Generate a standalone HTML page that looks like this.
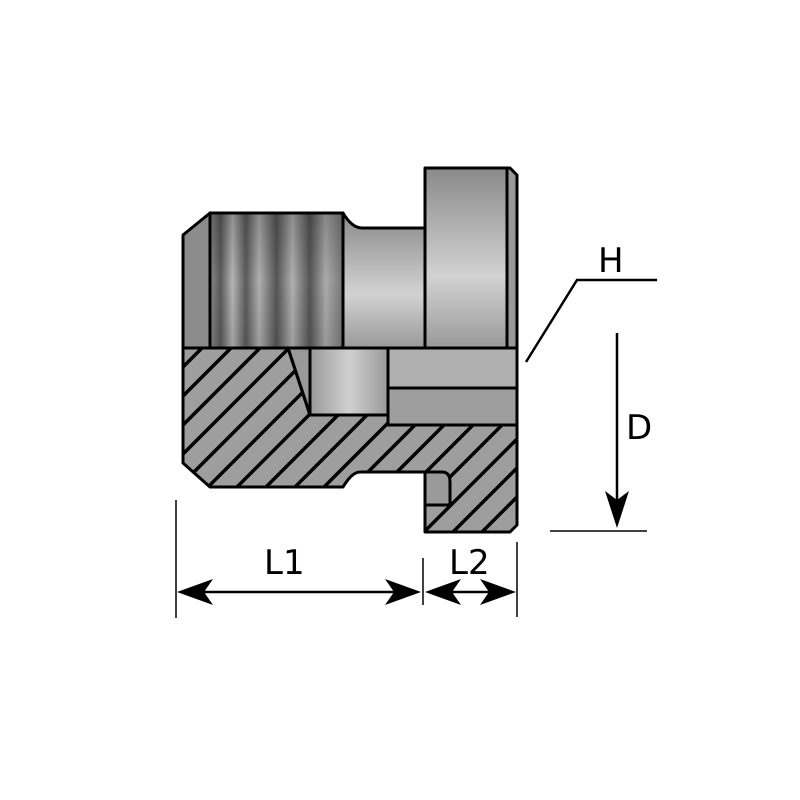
<!DOCTYPE html>
<html><head><meta charset="utf-8"><style>html,body{margin:0;padding:0;background:#fff}svg{display:block}</style></head><body>
<svg width="800" height="800" viewBox="0 0 800 800" xmlns="http://www.w3.org/2000/svg">
<defs>
<clipPath id="cp"><path d="M183,348 L517,348 L517,525 L510,532 L425,532 L425,472 L360,472 Q352,472 343,487 L210,487 L183,463 Z"/></clipPath>
<linearGradient id="thr" x1="0" x2="1" y1="0" y2="0">
<stop offset="0" stop-color="#8a8a8a"/><stop offset="0.08" stop-color="#5a5a5a"/><stop offset="0.17" stop-color="#b5b5b5"/>
<stop offset="0.27" stop-color="#5a5a5a"/><stop offset="0.37" stop-color="#b0b0b0"/><stop offset="0.5" stop-color="#555"/>
<stop offset="0.62" stop-color="#b0b0b0"/><stop offset="0.75" stop-color="#555"/><stop offset="0.87" stop-color="#aaa"/><stop offset="1" stop-color="#777"/>
</linearGradient>
<linearGradient id="v" x1="0" x2="0" y1="0" y2="1">
<stop offset="0" stop-color="#8a8a8a"/><stop offset="0.6" stop-color="#d2d2d2"/><stop offset="1" stop-color="#9a9a9a"/>
</linearGradient>
<linearGradient id="bore" x1="0" x2="1" y1="0" y2="0">
<stop offset="0" stop-color="#999"/><stop offset="0.5" stop-color="#d0d0d0"/><stop offset="1" stop-color="#999"/>
</linearGradient>
<linearGradient id="thrv" x1="0" x2="0" y1="0" y2="1">
<stop offset="0" stop-color="#000" stop-opacity="0.2"/><stop offset="0.5" stop-color="#000" stop-opacity="0"/><stop offset="1" stop-color="#000" stop-opacity="0.1"/>
</linearGradient>
</defs>
<g stroke="#000" stroke-width="3" stroke-linejoin="round">
<path d="M183,235 L210,213 L210,348 L183,348 Z" fill="#8c8c8c"/>
<rect x="210" y="213" width="133" height="135" fill="url(#thr)"/>
<rect x="210" y="213" width="133" height="135" fill="url(#thrv)" stroke="none"/>
<path d="M343,213 Q352,228 362,228 L425,228 L425,348 L343,348 Z" fill="url(#v)"/>
<rect x="425" y="168" width="82" height="180" fill="url(#v)"/>
<path d="M507,168 L510,168 L517,175 L517,348 L507,348 Z" fill="#999"/>
<path d="M183,348 L517,348 L517,525 L510,532 L425,532 L425,472 L360,472 Q352,472 343,487 L210,487 L183,463 Z" fill="#9e9e9e" stroke="none"/>
<g clip-path="url(#cp)" stroke-width="3.5">
<path d="M0,550 L550,0 M29,550 L579,0 M58,550 L608,0 M87,550 L637,0 M116,550 L666,0 M145,550 L695,0 M174,550 L724,0 M203,550 L753,0 M232,550 L782,0 M261,550 L811,0 M290,550 L840,0 M319,550 L869,0 M348,550 L898,0 M377,550 L927,0 M406,550 L956,0 M435,550 L985,0 M464,550 L1014,0 M493,550 L1043,0 M522,550 L1072,0 M551,550 L1101,0 M580,550 L1130,0 M609,550 L1159,0"/>
</g>
<path d="M183,348 L517,348 L517,525 L510,532 L425,532 L425,472 L360,472 Q352,472 343,487 L210,487 L183,463 Z" fill="none"/>
<path d="M288,348 L310,348 L310,415 Z" fill="#999"/>
<rect x="310" y="348" width="78" height="67" fill="url(#bore)"/>
<rect x="388" y="348" width="129" height="40" fill="#b0b0b0"/>
<rect x="388" y="388" width="129" height="37" fill="#9e9e9e"/>
<path d="M288,348 L310,415" fill="none"/>
<path d="M425,472 L442,472 Q450,472 450,482 L450,505 L425,505 Z" fill="#9a9a9a"/>
<path d="M183,348 L517,348" fill="none"/>
</g>
<g stroke="#000" stroke-width="2.5" fill="none">
<path d="M526,362 L577,280 L657,280"/>
<line x1="617" y1="333" x2="617" y2="510"/>
<line x1="550" y1="531" x2="647" y2="531" stroke-width="1.5"/>
<line x1="176" y1="500" x2="176" y2="618" stroke-width="1.5"/>
<line x1="423" y1="558" x2="423" y2="605" stroke-width="1.5"/>
<line x1="517" y1="542" x2="517" y2="617" stroke-width="1.5"/>
<line x1="190" y1="592" x2="410" y2="592"/>
<line x1="440" y1="592" x2="500" y2="592"/>
</g>
<g fill="#000">
<path d="M617,528 L605,491 L617,500 L629,491 Z"/>
<path d="M177,592 L213,579 L204,592 L213,605 Z"/>
<path d="M421,592 L385,579 L394,592 L385,605 Z"/>
<path d="M425,592 L461,579 L452,592 L461,605 Z"/>
<path d="M516,592 L480,579 L489,592 L480,605 Z"/>
</g>
<g font-family="'DejaVu Sans','Liberation Sans',sans-serif" font-size="34" fill="#000">
<text x="598" y="272">H</text>
<text x="626" y="439">D</text>
<text x="264" y="574">L1</text>
<text x="449" y="574">L2</text>
</g>
</svg>
</body></html>
